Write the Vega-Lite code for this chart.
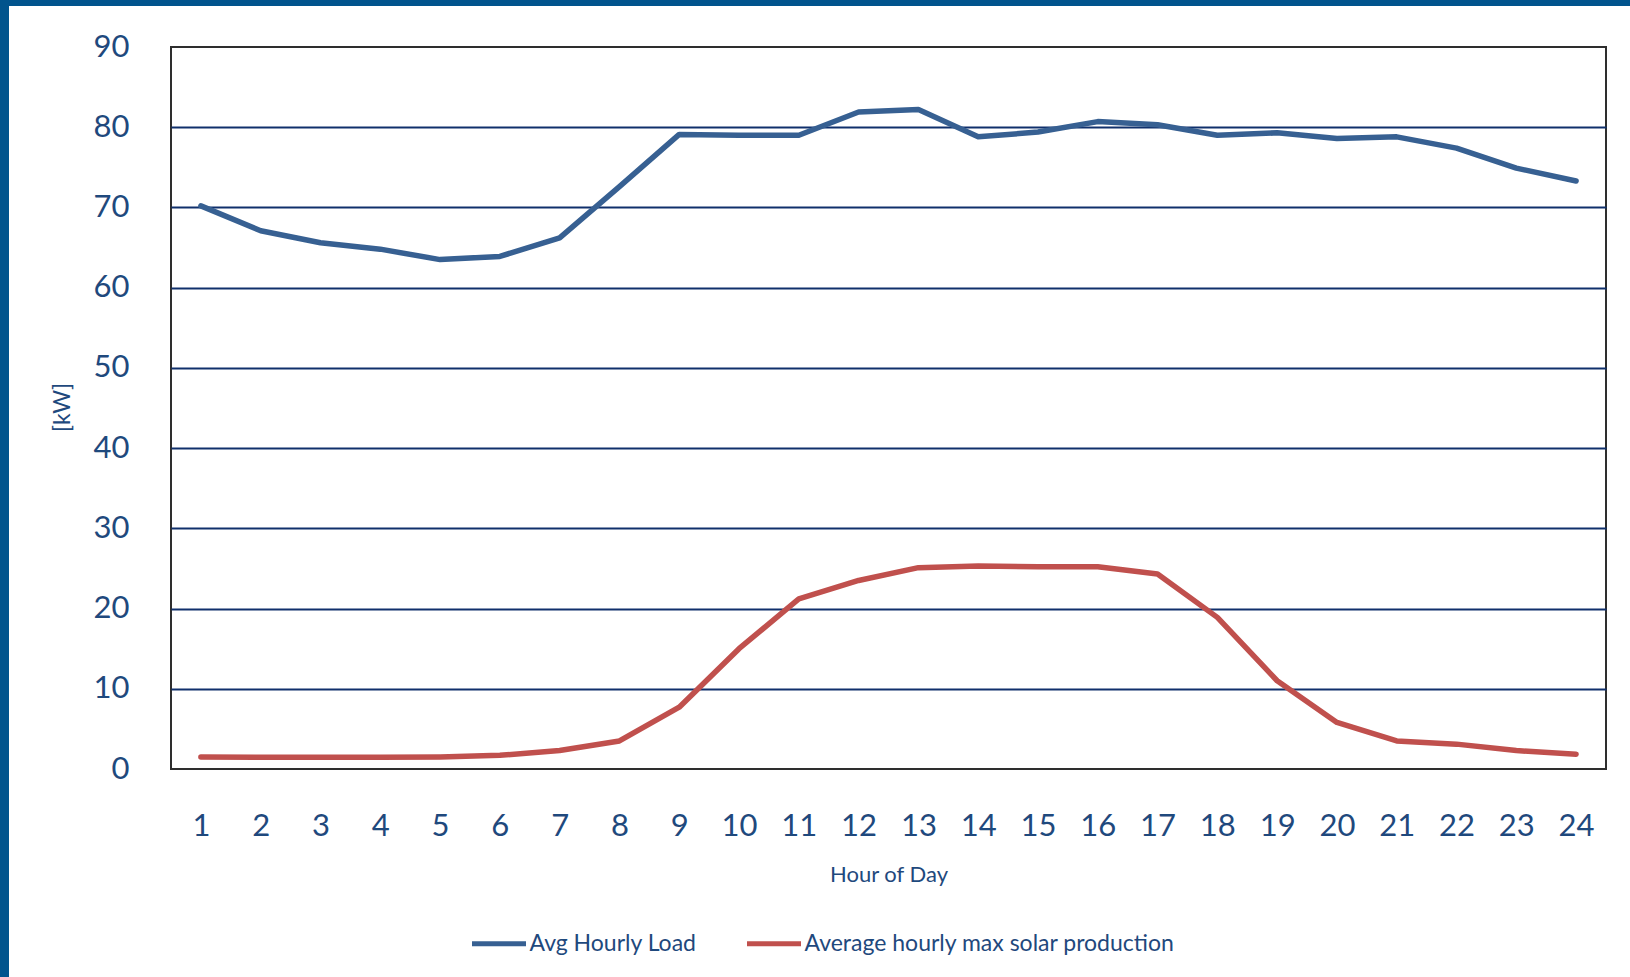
{
  "$schema": "https://vega.github.io/schema/vega-lite/v6.json",
  "background": "white",
  "padding": 0,
  "config": {
    "view": {"stroke": null},
    "font": "Lato"
  },
  "datasets": {
    "hourly": [
      {"hour": 1, "series": "Avg Hourly Load", "kw": 70.2},
      {"hour": 2, "series": "Avg Hourly Load", "kw": 67.1},
      {"hour": 3, "series": "Avg Hourly Load", "kw": 65.6},
      {"hour": 4, "series": "Avg Hourly Load", "kw": 64.8},
      {"hour": 5, "series": "Avg Hourly Load", "kw": 63.5},
      {"hour": 6, "series": "Avg Hourly Load", "kw": 63.9},
      {"hour": 7, "series": "Avg Hourly Load", "kw": 66.2},
      {"hour": 8, "series": "Avg Hourly Load", "kw": 72.6},
      {"hour": 9, "series": "Avg Hourly Load", "kw": 79.1},
      {"hour": 10, "series": "Avg Hourly Load", "kw": 79.0},
      {"hour": 11, "series": "Avg Hourly Load", "kw": 79.0},
      {"hour": 12, "series": "Avg Hourly Load", "kw": 81.9},
      {"hour": 13, "series": "Avg Hourly Load", "kw": 82.2},
      {"hour": 14, "series": "Avg Hourly Load", "kw": 78.8},
      {"hour": 15, "series": "Avg Hourly Load", "kw": 79.4},
      {"hour": 16, "series": "Avg Hourly Load", "kw": 80.7},
      {"hour": 17, "series": "Avg Hourly Load", "kw": 80.3},
      {"hour": 18, "series": "Avg Hourly Load", "kw": 79.0},
      {"hour": 19, "series": "Avg Hourly Load", "kw": 79.3},
      {"hour": 20, "series": "Avg Hourly Load", "kw": 78.6},
      {"hour": 21, "series": "Avg Hourly Load", "kw": 78.8},
      {"hour": 22, "series": "Avg Hourly Load", "kw": 77.4},
      {"hour": 23, "series": "Avg Hourly Load", "kw": 74.9},
      {"hour": 24, "series": "Avg Hourly Load", "kw": 73.3},
      {"hour": 1, "series": "Average hourly max solar production", "kw": 1.5},
      {"hour": 2, "series": "Average hourly max solar production", "kw": 1.45},
      {"hour": 3, "series": "Average hourly max solar production", "kw": 1.45},
      {"hour": 4, "series": "Average hourly max solar production", "kw": 1.45},
      {"hour": 5, "series": "Average hourly max solar production", "kw": 1.5},
      {"hour": 6, "series": "Average hourly max solar production", "kw": 1.7},
      {"hour": 7, "series": "Average hourly max solar production", "kw": 2.3},
      {"hour": 8, "series": "Average hourly max solar production", "kw": 3.5},
      {"hour": 9, "series": "Average hourly max solar production", "kw": 7.7},
      {"hour": 10, "series": "Average hourly max solar production", "kw": 15.0},
      {"hour": 11, "series": "Average hourly max solar production", "kw": 21.2},
      {"hour": 12, "series": "Average hourly max solar production", "kw": 23.5},
      {"hour": 13, "series": "Average hourly max solar production", "kw": 25.1},
      {"hour": 14, "series": "Average hourly max solar production", "kw": 25.3},
      {"hour": 15, "series": "Average hourly max solar production", "kw": 25.2},
      {"hour": 16, "series": "Average hourly max solar production", "kw": 25.2},
      {"hour": 17, "series": "Average hourly max solar production", "kw": 24.3},
      {"hour": 18, "series": "Average hourly max solar production", "kw": 18.9},
      {"hour": 19, "series": "Average hourly max solar production", "kw": 11.0},
      {"hour": 20, "series": "Average hourly max solar production", "kw": 5.8},
      {"hour": 21, "series": "Average hourly max solar production", "kw": 3.5},
      {"hour": 22, "series": "Average hourly max solar production", "kw": 3.1},
      {"hour": 23, "series": "Average hourly max solar production", "kw": 2.3},
      {"hour": 24, "series": "Average hourly max solar production", "kw": 1.85}
    ]
  },
  "spacing": 0,
  "hconcat": [
    {
      "width": 9,
      "height": 977,
      "view": {"fill": "#01548d", "stroke": null},
      "data": {"values": []},
      "mark": {"type": "point", "opacity": 0}
    },
    {
      "spacing": 24,
      "vconcat": [
        {
          "width": 1621,
          "height": 6,
          "view": {"fill": "#01548d", "stroke": null},
          "data": {"values": []},
          "mark": {"type": "point", "opacity": 0}
        },
        {
          "spacing": 0,
          "hconcat": [
            {
              "width": 1,
              "height": 1,
              "view": {"fill": null, "stroke": null},
              "data": {"values": []},
              "mark": {"type": "point", "opacity": 0}
            },
            {
              "width": 1435,
              "height": 722,
              "data": {"name": "hourly"},
              "view": {"stroke": "#2e2e2e", "strokeWidth": 2},
              "mark": {"type": "line", "strokeWidth": 5.5, "strokeCap": "round", "strokeJoin": "round"},
              "encoding": {
                "x": {
                  "field": "hour",
                  "type": "ordinal",
                  "scale": {"type": "point", "padding": 0.5},
                  "axis": {
                    "title": "Hour of Day",
                    "titleFont": "Lato",
                    "titleFontSize": 22,
                    "titleFontWeight": "normal",
                    "titleColor": "#1f497d",
                    "titleY": 105,
                    "titleBaseline": "middle",
                    "labelAngle": 0,
                    "labelFont": "Lato",
                    "labelFontSize": 31,
                    "labelColor": "#1f497d",
                    "labelBaseline": "middle",
                    "labelPadding": 57,
                    "ticks": false,
                    "domain": false,
                    "grid": false
                  }
                },
                "y": {
                  "field": "kw",
                  "type": "quantitative",
                  "scale": {"domain": [0, 90], "nice": false},
                  "axis": {
                    "title": "[kW]",
                    "titleFont": "Lato",
                    "titleFontSize": 23,
                    "titleFontWeight": "normal",
                    "titleColor": "#1f497d",
                    "titleX": -108.5,
                    "titleY": 360,
                    "titleBaseline": "middle",
                    "values": [0, 10, 20, 30, 40, 50, 60, 70, 80, 90],
                    "grid": true,
                    "gridWidth": 2,
                    "gridColor": {
                      "condition": {"test": "datum.value === 0 || datum.value === 90", "value": "transparent"},
                      "value": "#10306c"
                    },
                    "domain": false,
                    "ticks": true,
                    "tickSize": 160,
                    "tickOpacity": 0,
                    "labelPadding": -118,
                    "labelFont": "Lato",
                    "labelFontSize": 31,
                    "labelColor": "#1f497d"
                  }
                },
                "color": {
                  "field": "series",
                  "type": "nominal",
                  "scale": {
                    "domain": ["Avg Hourly Load", "Average hourly max solar production"],
                    "range": ["#376092", "#c0504d"]
                  },
                  "legend": {
                    "title": null,
                    "orient": "none",
                    "legendX": 469.5,
                    "legendY": 914,
                    "direction": "horizontal",
                    "padding": 0,
                    "symbolType": "stroke",
                    "symbolSize": 2916,
                    "symbolStrokeWidth": 5,
                    "labelFont": "Lato",
                    "labelFontSize": 23,
                    "labelColor": "#1f497d",
                    "labelOffset": 1,
                    "labelLimit": 0,
                    "columnPadding": 39
                  }
                }
              }
            }
          ]
        }
      ]
    }
  ]
}
